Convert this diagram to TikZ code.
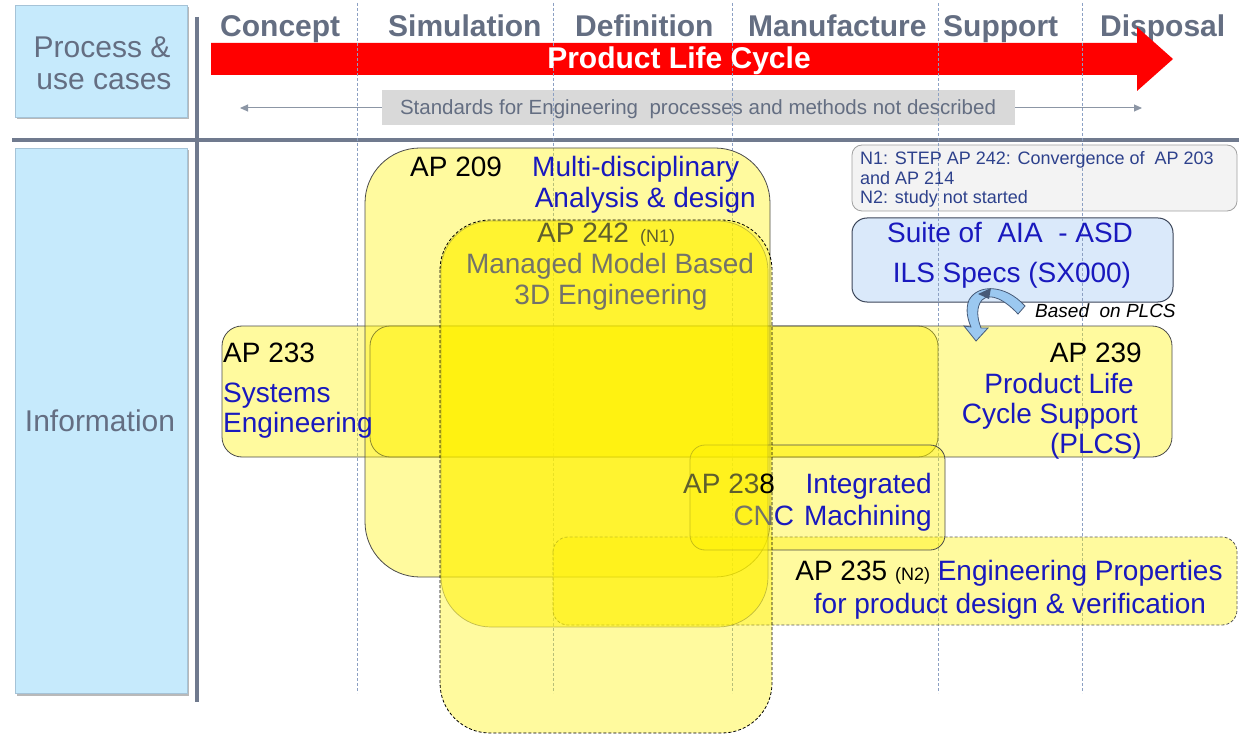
\documentclass[tikz,border=0pt]{standalone}
\usepackage{fontspec}
\setmainfont{Liberation Sans}
\usetikzlibrary{shadows,arrows.meta}
\definecolor{slate}{RGB}{100,110,130}
\definecolor{crosscol}{RGB}{112,122,142}
\definecolor{boxblue}{RGB}{198,234,252}
\definecolor{boxedge}{RGB}{165,195,215}
\definecolor{txtblue}{RGB}{25,25,190}
\definecolor{sepcol}{RGB}{140,160,195}
\definecolor{bordcol}{RGB}{75,75,75}
\definecolor{olivetxt}{RGB}{95,95,45}
\definecolor{graytxt}{RGB}{115,115,105}
\definecolor{notebg}{RGB}{243,243,243}
\definecolor{notebd}{RGB}{160,160,160}
\definecolor{notetxt}{RGB}{45,65,140}
\definecolor{suitebg}{RGB}{218,233,250}
\definecolor{suitebd}{RGB}{60,70,90}
\definecolor{stdgray}{RGB}{217,217,217}
\definecolor{stdarrowcol}{RGB}{140,150,165}
\definecolor{curvblue}{RGB}{155,200,240}
\definecolor{curvedge}{RGB}{70,90,120}
\newcommand{\fsz}[1]{\fontsize{#1}{#1}\selectfont}
\begin{document}
\begin{tikzpicture}[x=1pt,y=-1pt,
  lbl/.style={inner sep=0pt, font={\fsz{28}}},
  blu/.style={lbl, text=txtblue},
  phase/.style={inner sep=0pt, font={\bfseries\fsz{30}}, text=slate, anchor=base west},
  slatetxt/.style={inner sep=0pt, font={\fsz{30}}, text=slate, anchor=base},
  bluebox/.style={rectangle, fill=boxblue, draw=boxedge, line width=0.6pt, inner sep=0pt,
    drop shadow={shadow xshift=1.5pt, shadow yshift=-2.5pt, fill=black!50, opacity=0.55}},
  crossline/.style={line width=4pt, draw=crosscol},
  sepline/.style={draw=sepcol, line width=0.8pt, dash pattern=on 3pt off 2pt},
  stdarrow/.style={draw=stdarrowcol, line width=1pt, -{Triangle[length=8pt,width=7pt]}},
  ybox/.style={draw=bordcol, line width=0.8pt, fill=yellow, fill opacity=0.38},
  notefont/.style={inner sep=0pt, font={\fsz{18}}, text=notetxt, anchor=base west}
]
\useasboundingbox (0,0) rectangle (1239,735);
\fill[white] (0,0) rectangle (1239,735);

% left column boxes
\node[bluebox, minimum width=172pt, minimum height=112pt] (procbox) at (101,61) {};
\node[bluebox, minimum width=172pt, minimum height=545pt] (infobox) at (101,420.5) {};

% cross lines
\draw[crossline] (12,140) -- (1239,140);
\draw[crossline] (197,17) -- (197,702);

% phase labels
\node[phase] (ph1) at (220,37) {Concept};
\node[phase] (ph2) at (388,37) {Simulation};
\node[phase] (ph3) at (575,37) {Definition};
\node[phase] (ph4) at (748,37) {Manufacture};
\node[phase] (ph5) at (943,37) {Support};
\node[phase] (ph6) at (1100,37) {Disposal};

% red product life cycle arrow
\fill[red] (211,43) -- (1137,43) -- (1137,27) -- (1173,59) -- (1137,91) -- (1137,75) -- (211,75) -- cycle;

% standards bar
\node[fill=stdgray, minimum width=633pt, minimum height=35pt, inner sep=0pt] (std) at (698.5,108) {};
\coordinate (stdL) at (240,108);
\coordinate (stdR) at (1142,108);
\draw[stdarrow] (std.west) -- (stdL);
\draw[stdarrow] (std.east) -- (stdR);

% note and suite boxes
\node[rectangle, rounded corners=10pt, fill=notebg, draw=notebd, line width=0.8pt,
  minimum width=385pt, minimum height=66pt, inner sep=0pt] (note) at (1044.5,178) {};
\node[rectangle, rounded corners=15pt, fill=suitebg, draw=suitebd, line width=1pt,
  minimum width=321pt, minimum height=84pt, inner sep=0pt] (suite) at (1012.5,260) {};

% phase separators
\foreach \x in {357,553,732,938,1082} \draw[sepline] (\x,3) -- (\x,693);

% AP shapes
\draw[ybox, rounded corners=20pt] (222,326) rectangle (938,457);
\draw[ybox, rounded corners=20pt] (370,326) rectangle (1172,457);
\draw[ybox, rounded corners=55pt] (365,148) rectangle (770,577);
\draw[ybox, draw=black!65, dash pattern=on 3pt off 2pt, rounded corners=15pt] (553,537) rectangle (1237,625);
\draw[ybox, rounded corners=15pt] (690,445) rectangle (945,550);
\draw[ybox, fill opacity=0.5, draw opacity=0.55, line width=0.7pt, rounded corners=50pt] (441,221) rectangle (768,627);
\draw[ybox, draw=black, dash pattern=on 3pt off 2pt, rounded corners=50pt] (440,220) rectangle (772,733);

% curved arrow "based on PLCS"
\filldraw[fill=curvblue, draw=curvedge, line width=0.8pt]
  (1025,306) .. controls (1005,284) and (978,284) .. (969,300)
  .. controls (965,310) and (968,320) .. (971,327)
  -- (964,326) -- (976,341) -- (988,328) -- (981,328)
  .. controls (977,318) and (976,307) .. (982,300)
  .. controls (990,292) and (1005,300) .. (1018,314) -- cycle;
\fill[curvedge] (978,294) -- (991,288) -- (989,299) -- cycle;

% texts
\node[slatetxt] (proc1) at (102,58) {Process \&};
\node[slatetxt] (proc2) at (104,90) {use cases};
\node[slatetxt] (info) at (100,431) {Information};
\node[inner sep=0pt, font={\bfseries\fsz{30}}, text=white, anchor=base] (plc) at (679,69) {Product Life Cycle};
\node[inner sep=0pt, font={\fsz{20.5}}, text=slate, anchor=base] (stdt) at (698,115) {Standards for Engineering\ \ processes and methods not described};

\node[notefont] (n1) at (860,165) {N1: STEP AP 242: Convergence of\ \ AP 203};
\node[notefont] (n1b) at (860,185) {and AP 214};
\node[notefont] (n2) at (860,204) {N2: study not started};

\node[inner sep=0pt, font={\fsz{28}}, text=txtblue, anchor=base] (suite1) at (1010,243) {Suite of\ \ AIA\ \ - ASD};
\node[inner sep=0pt, font={\fsz{28}}, text=txtblue, anchor=base] (suite2) at (1012,283) {ILS Specs (SX000)};
\node[inner sep=0pt, font={\itshape\fsz{19}}, anchor=base west] (based) at (1035,317) {Based\ \ on PLCS};

\node[lbl, anchor=base west] (ap209a) at (410,177) {AP 209};
\node[blu, anchor=base west] (ap209b) at (532,177) {Multi-disciplinary};
\node[blu, anchor=base east] (ap209c) at (756,208) {Analysis \& design};

\node[lbl, text=olivetxt, anchor=base west] (ap242a) at (537,243) {AP 242};
\node[inner sep=0pt, font={\fsz{18}}, text=olivetxt, anchor=base west] (ap242n) at (640,243) {(N1)};
\node[lbl, text=graytxt, anchor=base] (ap242b) at (610,274) {Managed Model Based};
\node[lbl, text=graytxt, anchor=base] (ap242c) at (611,305) {3D Engineering};

\node[lbl, anchor=base west] (ap233a) at (223,362) {AP 233};
\node[blu, anchor=base west] (ap233b) at (223,402) {Systems};
\node[blu, anchor=base west] (ap233c) at (223,432) {Engineering};

\node[lbl, anchor=base east] (ap239a) at (1142,362) {AP 239};
\node[blu, anchor=base east] (ap239b) at (1134,393) {Product Life};
\node[blu, anchor=base east] (ap239c) at (1138,423) {Cycle Support};
\node[blu, anchor=base east] (ap239d) at (1142,453) {(PLCS)};

\node[lbl, anchor=base west] (ap238a) at (683,493) {\textcolor{olivetxt}{AP 23}8};
\node[blu, anchor=base east] (ap238b) at (932,493) {Integrated};
\node[blu, anchor=base east] (ap238c) at (932,525) {\textcolor{graytxt}{CN}C\hspace{10pt}Machining};

\node[lbl, anchor=base] (ap235a) at (1009,580) {AP 235 {\fsz{18}(N2)} \textcolor{txtblue}{Engineering Properties}};
\node[blu, anchor=base] (ap235b) at (1010,613) {for product design \& verification};
\end{tikzpicture}
\end{document}
